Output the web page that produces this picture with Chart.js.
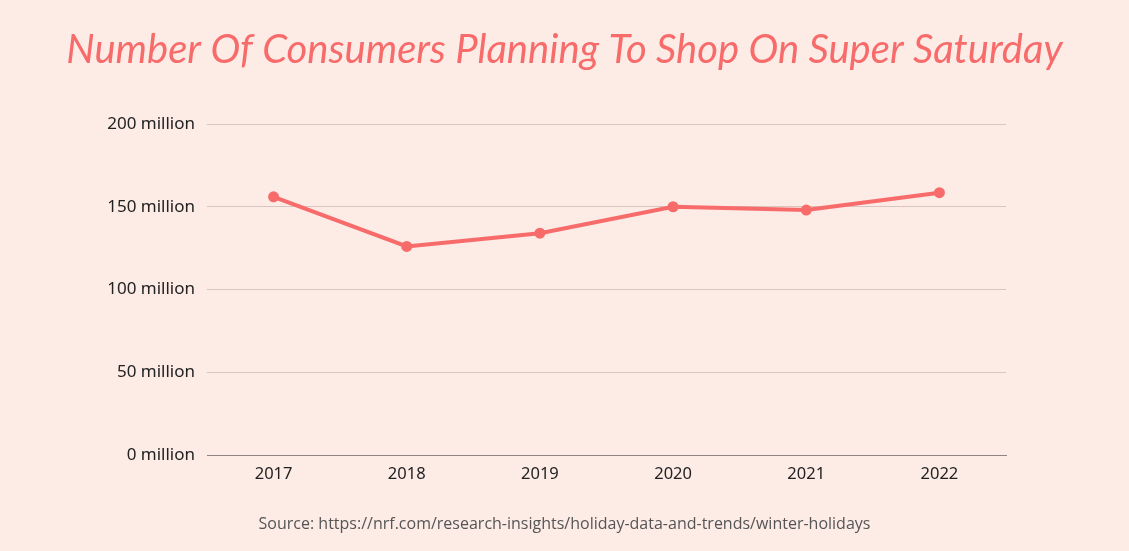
<!DOCTYPE html>
<html>
<head>
<meta charset="utf-8">
<script src="https://cdn.jsdelivr.net/npm/chart.js@4"></script>
<style>
  html, body { margin: 0; padding: 0; background: #fdebe6; }
  #wrap { width: 1129px; height: 551px; }
</style>
</head>
<body>
<div id="wrap"><canvas id="chart"></canvas></div>
<script>
// datos (millones)
const years = ['2017', '2018', '2019', '2020', '2021', '2022'];
const consumers = [156, 126, 134, 150, 148, 158.5];
const yTicks = [0, 50, 100, 150, 200];

const titleText = 'Number Of Consumers Planning To Shop On Super Saturday';
const sourceText = 'Source: https://nrf.com/research-insights/holiday-data-and-trends/winter-holidays';

const pink = '#f76b6b';

const ctx = document.getElementById('chart').getContext('2d');
new Chart(ctx, {
    type: 'line',
    data: {
        labels: years,
        datasets: [{
            label: 'Consumers',
            data: consumers,
            borderColor: pink,
            backgroundColor: pink,
            borderWidth: 4,
            pointRadius: 5.5,
            pointBorderWidth: 0,
            pointHoverRadius: 5.5,
            tension: 0
        }]
    },
    options: {
        responsive: true,
        maintainAspectRatio: false,
        animation: false,
        layout: { padding: { left: 0, right: 0, top: 0, bottom: 8 } },
        plugins: {
            legend: { display: false },
            tooltip: { enabled: false },
            title: {
                display: true,
                text: titleText,
                color: pink,
                font: { family: 'Lato', size: 40, style: 'italic', weight: 'normal' },
                padding: { top: 26, bottom: 50 }
            },
            subtitle: {
                display: true,
                position: 'bottom',
                text: sourceText,
                color: '#555',
                font: { family: 'Open Sans', size: 16 },
                padding: { top: 22, bottom: 9 }
            }
        },
        scales: {
            x: {
                offset: true,
                grid: { display: false, drawTicks: false },
                border: { color: '#8f8481', width: 1 },
                ticks: {
                    color: '#222',
                    font: { family: 'Noto Sans', size: 16.5 },
                    padding: 9
                }
            },
            y: {
                min: 0,
                max: 200,
                afterBuildTicks: axis => { axis.ticks = yTicks.map(v => ({ value: v })); },
                afterFit: axis => { axis.width = 207; },
                grid: { color: '#d9c5c0', drawTicks: false },
                border: { display: false },
                ticks: {
                    color: '#222',
                    font: { family: 'Noto Sans', size: 17 },
                    padding: 12,
                    callback: v => v + ' million'
                }
            },
            // eje vacío a la derecha para dejar el margen
            yRight: {
                position: 'right',
                min: 0,
                max: 200,
                afterFit: axis => { axis.width = 123; },
                grid: { display: false, drawTicks: false },
                border: { display: false },
                ticks: { display: false }
            }
        }
    }
});
</script>
</body>
</html>
